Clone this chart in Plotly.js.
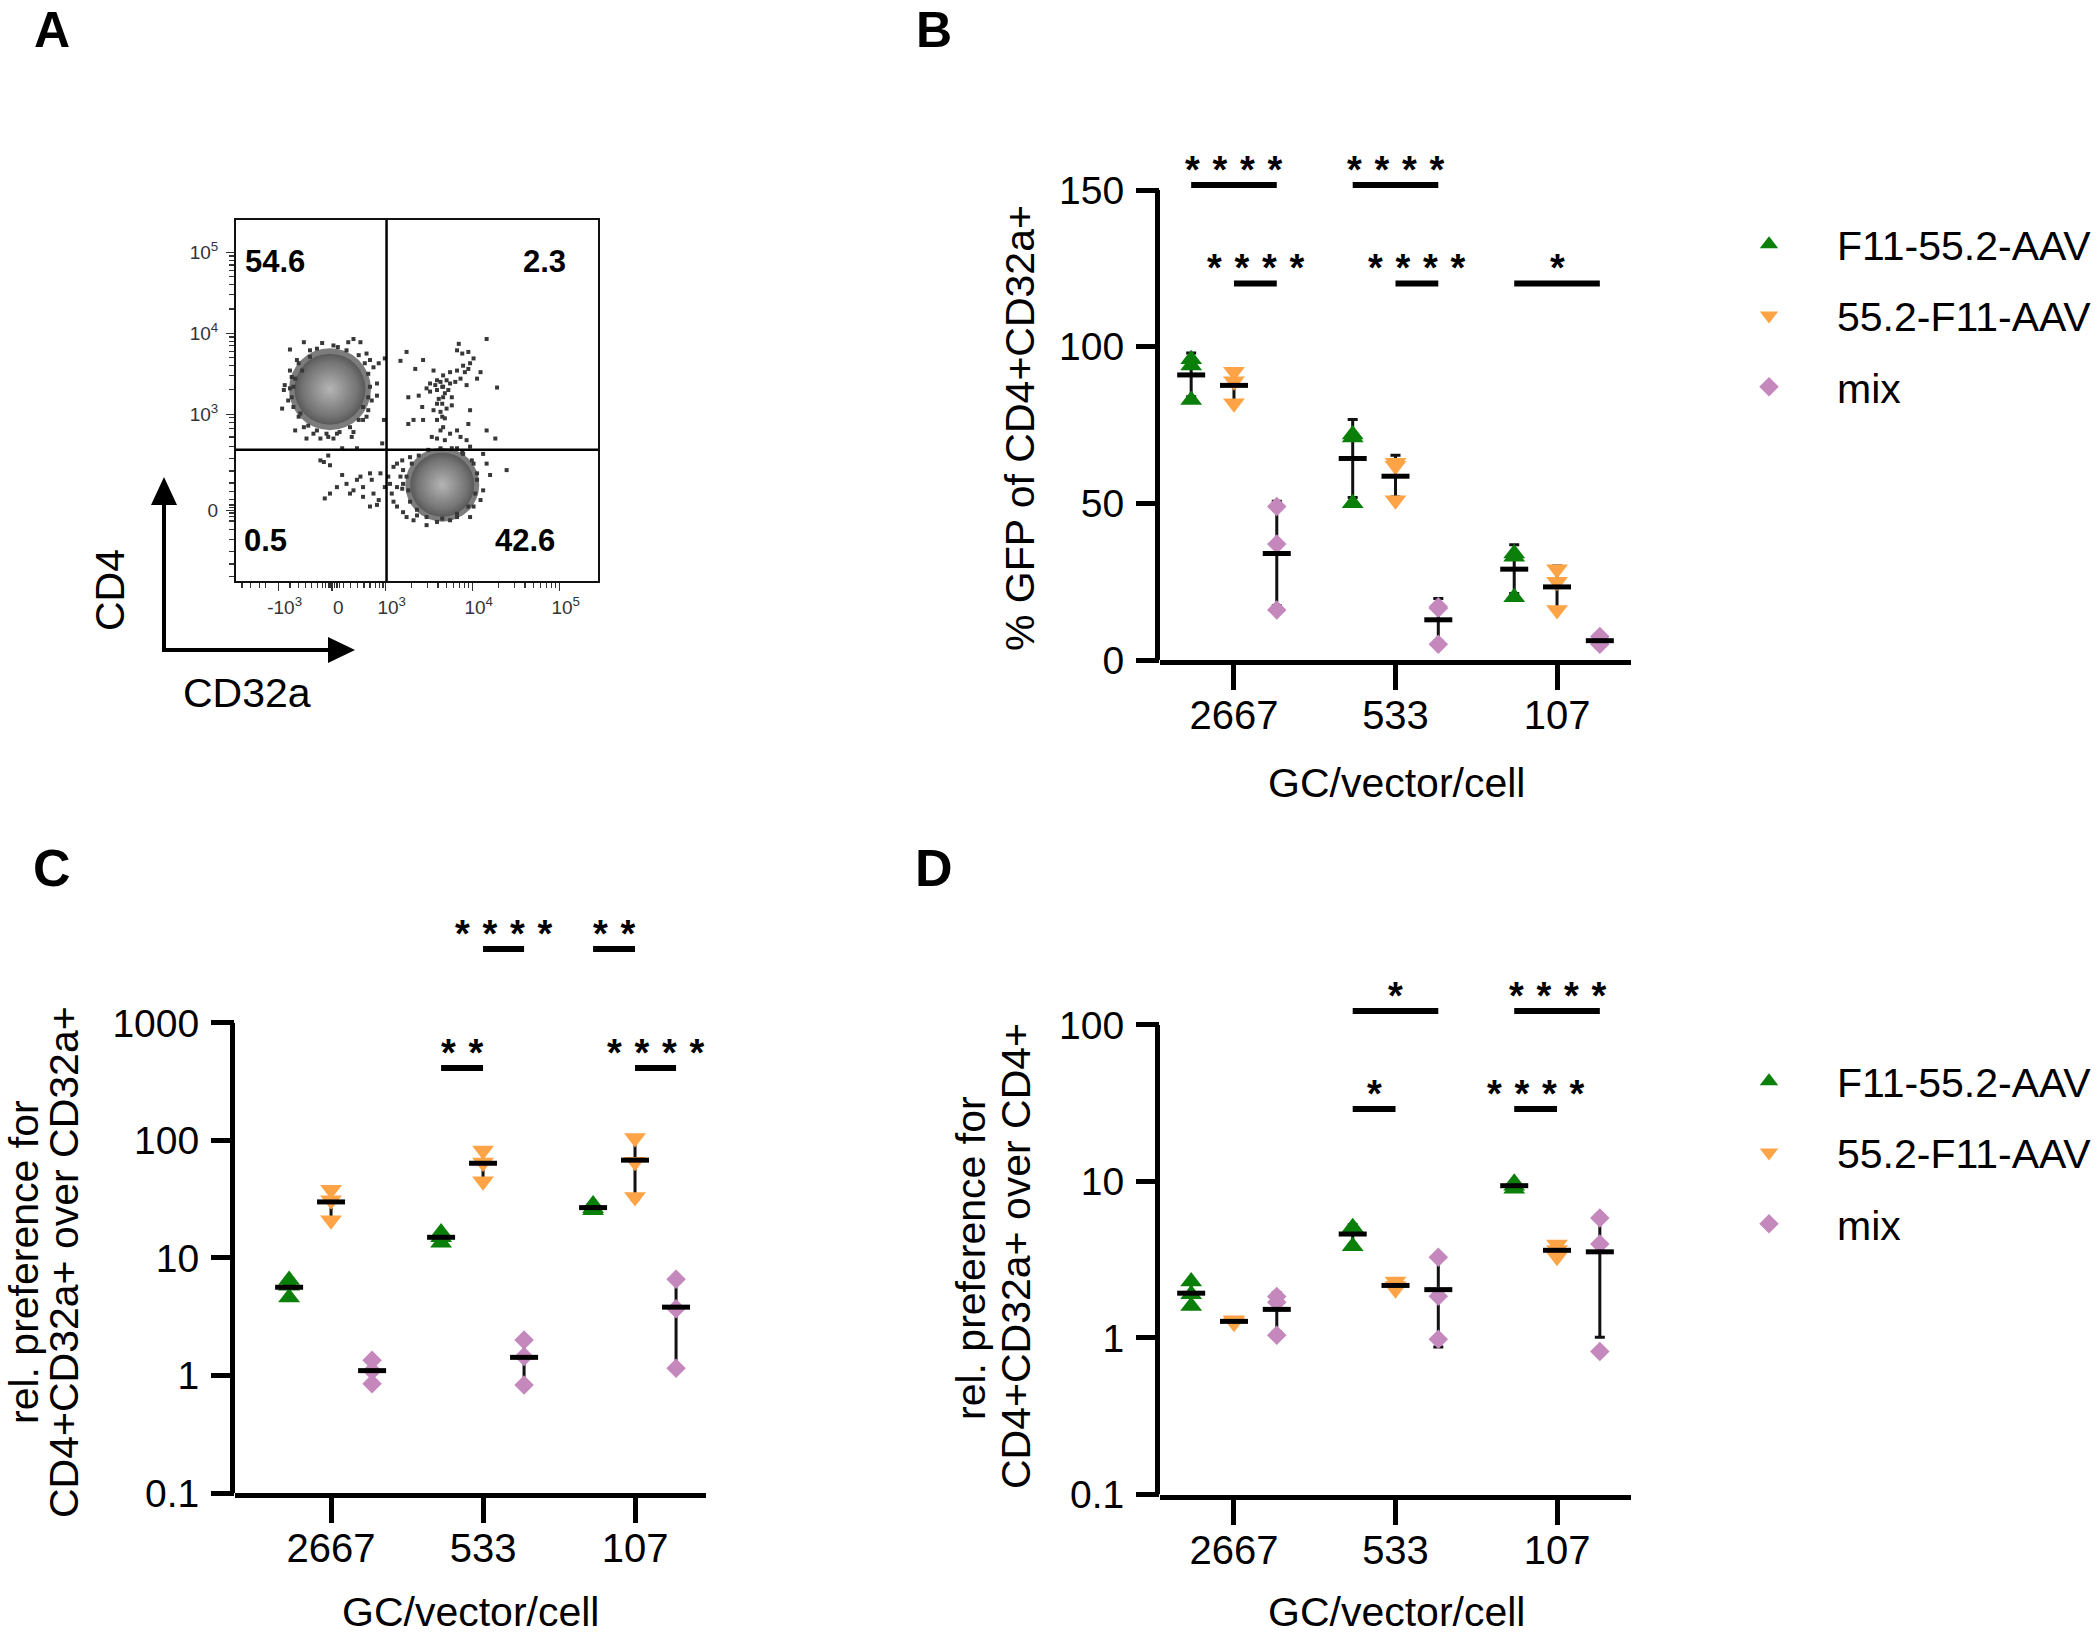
<!DOCTYPE html>
<html>
<head>
<meta charset="utf-8">
<script src="https://cdn.plot.ly/plotly-3.0.1.min.js"></script>
<style>
html,body{margin:0;padding:0;background:#fff;}
#chart{width:2100px;height:1634px;}
</style>
</head>
<body>
<div id="chart"></div>
<script>
// ---------------- DATA ----------------
const groups = ['2667', '533', '107'];
const seriesNames = ['F11-55.2-AAV', '55.2-F11-AAV', 'mix'];

// Panel B: % GFP of CD4+CD32a+  (replicates per dose group)
const gfpF11 = [[96, 94, 83], [72, 71, 50], [34, 33, 20]];
const gfp552 = [[92, 89, 82], [63, 62, 51], [29, 25, 16]];
const gfpMix = [[49, 37, 16], [17, 16.5, 5], [7.5, 6, 5]];

// Panel C: rel. preference CD4+CD32a+ over CD32a+
const prefCD32F11 = [[6.5, 5.8, 4.6], [16.5, 15, 13.5], [28.5, 26.5, 25.5]];
const prefCD32552 = [[38, 31, 21], [82, 65, 45], [105, 66, 33]];
const prefCD32Mix = [[1.35, 1.1, 0.85], [2.0, 1.45, 0.83], [6.6, 3.7, 1.15]];

// Panel D: rel. preference CD4+CD32a+ over CD4+
const prefCD4F11 = [[2.3, 1.9, 1.6], [5.1, 4.9, 3.85], [9.8, 9.4, 9.0]];
const prefCD4552 = [[1.3, 1.28, 1.25], [2.3, 2.15, 2.05], [3.95, 3.65, 3.3]];
const prefCD4Mix = [[1.84, 1.69, 1.04], [3.28, 1.85, 0.98], [5.85, 3.99, 0.82]];

// Significance brackets: [group, series] -> [group, series], level, label
const sigBPairs = [[0, 0, 0, 2], [1, 0, 1, 2], [0, 1, 0, 2], [1, 1, 1, 2], [2, 0, 2, 2]];
const sigBLevels = [151.6, 151.6, 120.2, 120.2, 120.2];
const sigBLabels = ['****', '****', '****', '****', '*'];

const sigCPairs = [[1, 1, 1, 2], [2, 0, 2, 1], [1, 0, 1, 1], [2, 1, 2, 2]];
const sigCLevels = [4270, 4270, 414, 414];
const sigCLabels = ['****', '**', '**', '****'];

const sigDPairs = [[1, 0, 1, 2], [2, 0, 2, 2], [1, 0, 1, 1], [2, 0, 2, 1]];
const sigDLevels = [122.7, 122.7, 29.0, 29.0];
const sigDLabels = ['*', '****', '*', '****'];

// Panel A: flow cytometry (display units: log10 decades, biexponential near 0)
const clusterX = [2.36, 3.65];
const clusterY = [3.31, 2.13];
const eventX = [2.06,2.27,2.40,2.57,2.63,2.71,1.90,1.84,1.83,1.81,1.88,1.90,2.82,2.86,2.92,2.90,2.84,2.90,2.78,2.74,1.96,2.09,2.25,2.34,2.61,2.50,2.67,2.98,2.96,2.99,1.94,1.92,1.98,2.13,2.78,2.80,2.06,2.44,2.17,
  1.90,1.92,1.94,2.00,2.04,2.13,2.21,2.45,2.55,2.69,2.76,2.80,2.82,2.80,2.74,2.69,2.59,2.47,2.32,2.21,2.11,2.02,1.96,2.00,2.63,2.40,
  2.25,2.29,2.34,2.36,2.50,2.44,2.55,2.59,2.30,2.36,2.67,2.71,2.74,2.82,2.84,2.94,2.86,2.92,2.82,2.90,2.63,2.74,
  3.03,3.05,2.99,3.07,3.09,3.13,3.19,3.20,3.17,3.09,3.13,3.20,3.24,3.32,3.47,3.59,3.74,3.82,4.01,4.09,4.12,4.20,4.16,4.12,3.97,3.88,4.39,3.82,4.05,4.01,3.28,3.36,3.97,
  3.24,3.26,3.28,3.36,3.47,3.65,3.82,3.95,4.03,4.05,3.99,3.89,3.76,3.63,3.49,3.38,3.30,3.20,3.19,3.13,
  3.24,3.17,3.34,3.43,3.55,3.59,3.66,3.74,3.82,3.89,3.97,4.01,3.95,4.09,3.84,3.82,3.88,3.95,4.16,4.28,3.47,3.51,3.59,3.65,3.68,3.74,3.80,3.61,3.65,3.70,3.76,3.55,3.63,3.65,3.68,3.59,3.66,3.63,3.74,3.82,3.53,3.59,3.68,3.26,3.32,3.43,3.42,3.38,3.26,3.97,3.95,3.86,3.93,4.26,4.16,4.05,3.93,
  3.63,3.70,3.57,3.66,3.72,3.51,3.76,3.59,3.66,3.91,3.86];
const eventY = [3.89,3.88,3.85,3.89,3.93,3.89,3.80,3.36,3.30,3.07,3.17,3.54,3.67,3.58,3.63,3.38,3.17,3.23,2.97,2.93,2.80,2.70,2.70,2.72,2.72,2.58,2.58,2.93,2.64,3.69,3.34,3.46,3.67,3.79,3.75,3.05,2.84,2.76,2.76,
  3.32,3.21,3.09,2.97,3.54,3.71,3.81,3.83,3.79,3.73,3.63,3.50,3.34,3.21,3.09,2.93,2.84,2.78,2.76,2.80,2.86,3.01,3.44,3.63,2.78,2.70,
  2.43,2.41,2.49,2.37,2.25,2.10,2.14,2.02,1.96,2.02,2.19,2.23,2.10,2.27,2.19,2.27,2.02,1.94,1.86,1.88,2.06,1.98,
  2.23,2.14,2.10,2.02,2.35,2.39,2.43,2.31,2.23,1.92,1.86,1.79,1.73,1.69,1.63,1.67,1.69,1.73,1.86,1.94,2.06,2.25,2.39,2.51,2.60,2.53,2.31,2.58,2.19,2.39,2.47,1.75,1.73,
  2.23,2.06,1.92,1.82,1.73,1.71,1.77,1.86,2.02,2.27,2.43,2.51,2.58,2.58,2.56,2.49,2.39,2.14,2.08,2.10,
  3.77,3.66,3.56,3.67,3.54,3.42,3.48,3.52,3.54,3.60,3.63,3.69,3.56,3.52,3.87,3.79,3.75,3.77,3.93,3.33,3.32,3.28,3.30,3.34,3.26,3.38,3.40,3.19,3.13,3.07,3.11,3.05,3.03,2.97,2.95,2.93,2.84,2.80,2.76,2.80,2.72,2.70,2.68,3.21,2.93,2.93,3.09,3.23,2.88,3.05,2.88,2.72,2.68,2.70,2.80,3.44,3.36,
  3.40,3.42,3.36,3.21,3.30,3.38,3.21,3.13,3.34,3.52,3.44];
const quadrantLabels = ['54.6', '2.3', '0.5', '42.6'];
const quadrantX = [1.73, 4.83, 1.62, 4.60];
const quadrantY = [4.89, 4.89, 1.44, 1.44];
const gateX = 3.01, gateY = 2.56;
const flowXTicks = [1.77, 2.385, 3, 4, 5];
const flowXText = ['-10<sup>3</sup>', '0', '10<sup>3</sup>', '10<sup>4</sup>', '10<sup>5</sup>'];
const flowYTicks = [1.81, 3, 4, 5];
const flowYText = ['0', '10<sup>3</sup>', '10<sup>4</sup>', '10<sup>5</sup>'];

// ---------------- STYLE ----------------
const FONT = 'Liberation Sans, Arial, Helvetica, sans-serif';
const W = 2100, H = 1634;
const px = v => v / W;
const py = v => 1 - v / H;
const colors = ['#0a7f0a', '#ffa347', '#c488bd'];
const symbols = ['triangle-up', 'triangle-down', 'diamond'];
const sizes = [19, 19, 15];

function buildPanel(sets, xa, ya, off, legendId) {
  const errs = [], pts = [], means = [];
  sets.forEach((reps, s) => {
    const xs = [], ys = [], mx = [], my = [], sd = [];
    reps.forEach((vals, g) => {
      const xpos = g + off[s];
      vals.forEach(v => { xs.push(xpos); ys.push(v); });
      const m = vals.reduce((a, b) => a + b, 0) / vals.length;
      const v2 = vals.reduce((a, b) => a + (b - m) * (b - m), 0) / (vals.length - 1);
      mx.push(xpos); my.push(m); sd.push(Math.sqrt(v2));
    });
    errs.push({type: 'scatter', mode: 'markers', x: mx, y: my, xaxis: xa, yaxis: ya,
      showlegend: false, hoverinfo: 'skip', marker: {size: 1, opacity: 0},
      error_y: {type: 'data', array: sd, symmetric: true, visible: true, color: '#111', thickness: 3, width: 5}});
    const p = {type: 'scatter', mode: 'markers', x: xs, y: ys, xaxis: xa, yaxis: ya, name: seriesNames[s],
      marker: {symbol: symbols[s], size: sizes[s], color: colors[s], line: {width: 0}}, cliponaxis: false};
    if (legendId) { p.legend = legendId; p.legendgroup = legendId + s; p.showlegend = true; }
    else p.showlegend = false;
    pts.push(p);
    means.push({type: 'scatter', mode: 'markers', x: mx, y: my, xaxis: xa, yaxis: ya, showlegend: false,
      hoverinfo: 'skip', marker: {symbol: 'line-ew', size: 20, color: '#000', line: {width: 5, color: '#000'}}, cliponaxis: false});
  });
  return errs.concat(pts, means);
}

const offBD = [-0.265, 0, 0.265];
const offC = [-0.276, 0, 0.27];

let data = [];
// Panel A: dense cores (dark rim, lighter centre, layered radial shading) then single events
data.push({type: 'scatter', mode: 'markers', x: clusterX, y: clusterY, xaxis: 'x', yaxis: 'y', showlegend: false, hoverinfo: 'skip',
  marker: {size: [82, 74], color: '#444444', line: {width: 0}}});
data.push({type: 'scatter', mode: 'markers', x: clusterX, y: clusterY, xaxis: 'x', yaxis: 'y', showlegend: false, hoverinfo: 'skip',
  marker: {size: [71, 64], color: '#4a4a4a', gradient: {type: 'radial', color: '#f0f0f0'}, line: {width: 0}}});
data.push({type: 'scatter', mode: 'markers', x: clusterX, y: clusterY, xaxis: 'x', yaxis: 'y', showlegend: false, hoverinfo: 'skip',
  marker: {size: [52, 47], color: '#767676', gradient: {type: 'radial', color: '#ababab'}, line: {width: 0}}});
data.push({type: 'scatter', mode: 'markers', x: eventX, y: eventY, xaxis: 'x', yaxis: 'y', showlegend: false,
  marker: {symbol: 'square', size: 4, color: '#383838', line: {width: 0}}});
// Panels B, C, D
data = data.concat(buildPanel([gfpF11, gfp552, gfpMix], 'x2', 'y2', offBD, 'legend'));
data = data.concat(buildPanel([prefCD32F11, prefCD32552, prefCD32Mix], 'x3', 'y3', offC, null));
data = data.concat(buildPanel([prefCD4F11, prefCD4552, prefCD4Mix], 'x4', 'y4', offBD, 'legend2'));

const shapes = [], annotations = [];

function addSig(pairs, levels, labels, xa, ya, off, isLog) {
  pairs.forEach((p, i) => {
    const x0 = p[0] + off[p[1]], x1 = p[2] + off[p[3]];
    shapes.push({type: 'line', xref: xa, yref: ya, x0: x0, x1: x1, y0: levels[i], y1: levels[i],
      line: {color: '#000', width: 6}});
    annotations.push({xref: xa, yref: ya, x: (x0 + x1) / 2, y: isLog ? Math.log10(levels[i]) : levels[i],
      text: labels[i].split('').join('\u2004'), showarrow: false, xanchor: 'center', yanchor: 'middle', yshift: 15,
      font: {family: FONT, size: 38, color: '#000', weight: 'bold'}});
  });
}
addSig(sigBPairs, sigBLevels, sigBLabels, 'x2', 'y2', offBD, false);
addSig(sigCPairs, sigCLevels, sigCLabels, 'x3', 'y3', offC, true);
addSig(sigDPairs, sigDLevels, sigDLabels, 'x4', 'y4', offBD, true);

// y-axis lines limited to tick range
[['x2', 'y2', 0, 150], ['x3', 'y3', 0.1, 1000], ['x4', 'y4', 0.1, 100]].forEach(a => {
  shapes.push({type: 'line', xref: a[0] + ' domain', yref: a[1], xsizemode: 'pixel', xanchor: 0, x0: -2.5, x1: -2.5,
    y0: a[2], y1: a[3], line: {color: '#000', width: 5}});
});

// Panel A gates
shapes.push({type: 'line', xref: 'x', yref: 'y domain', x0: gateX, x1: gateX, y0: 0, y1: 1, line: {color: '#000', width: 2.5}});
shapes.push({type: 'line', xref: 'x domain', yref: 'y', x0: 0, x1: 1, y0: gateY, y1: gateY, line: {color: '#000', width: 2.5}});
// Panel A axis arrows
shapes.push({type: 'line', xref: 'paper', yref: 'paper', x0: px(164), x1: px(164), y0: py(652), y1: py(500), line: {color: '#000', width: 4}});
shapes.push({type: 'line', xref: 'paper', yref: 'paper', x0: px(162), x1: px(330), y0: py(650), y1: py(650), line: {color: '#000', width: 4}});
shapes.push({type: 'path', xref: 'paper', yref: 'paper', path: `M ${px(151)},${py(505)} L ${px(177)},${py(505)} L ${px(164)},${py(477)} Z`, fillcolor: '#000', line: {width: 0}});
shapes.push({type: 'path', xref: 'paper', yref: 'paper', path: `M ${px(328)},${py(637)} L ${px(328)},${py(663)} L ${px(355)},${py(650)} Z`, fillcolor: '#000', line: {width: 0}});

quadrantLabels.forEach((t, i) => annotations.push({xref: 'x', yref: 'y', x: quadrantX[i], y: quadrantY[i], text: '<b>' + t + '</b>',
  showarrow: false, xanchor: 'center', yanchor: 'middle', font: {family: FONT, size: 31, color: '#000'}}));

function txt(x, y, text, size, angle, extra) {
  annotations.push(Object.assign({xref: 'paper', yref: 'paper', x: px(x), y: py(y), text: text, showarrow: false,
    xanchor: 'center', yanchor: 'middle', textangle: angle || 0, font: {family: FONT, size: size, color: '#000'}}, extra || {}));
}
// panel letters
txt(52, 0, '<b>A</b>', 50, 0, {yanchor: 'top'}); txt(934, 0, '<b>B</b>', 50, 0, {yanchor: 'top'});
txt(52, 868, '<b>C</b>', 52); txt(934, 868, '<b>D</b>', 52);
// Panel A axis names
txt(110, 590, 'CD4', 41, -90); txt(247, 693, 'CD32a', 41);
// axis titles
txt(1020, 428, '% GFP of CD4+CD32a+', 41, -90);
txt(24, 1262, 'rel. preference for', 41, -90);
txt(64, 1262, 'CD4+CD32a+ over CD32a+', 41, -90);
txt(971, 1258, 'rel. preference for', 41, -90);
txt(1016, 1256, 'CD4+CD32a+ over CD4+', 41, -90);
txt(1396, 783, 'GC/vector/cell', 41); txt(470, 1612, 'GC/vector/cell', 41); txt(1396, 1612, 'GC/vector/cell', 41);

const xCat = (d0, d1, r) => ({domain: [px(d0), px(d1)], range: r, tickvals: [0, 1, 2], ticktext: groups,
  showline: true, linewidth: 5, linecolor: '#000', ticks: 'outside', ticklen: 25, tickwidth: 5, tickcolor: '#000',
  showgrid: false, zeroline: false, tickfont: {family: FONT, size: 40, color: '#000'}, ticklabelstandoff: -9, fixedrange: true});
const yVal = (d0, d1, r, vals, texts, type) => ({domain: [py(d0), py(d1)], range: r, type: type || 'linear',
  tickvals: vals, ticktext: texts, showline: false, ticks: 'outside', ticklen: 23, tickwidth: 5, tickcolor: '#000',
  showgrid: false, zeroline: false, tickfont: {family: FONT, size: 39, color: '#000'}, ticklabelstandoff: 4, fixedrange: true});

const flowMinorX = [1.35, 1.45, 1.55, 1.62, 1.9, 2.0, 2.08, 2.15, 2.22, 2.27, 2.31, 2.34, 2.36, 2.41, 2.44, 2.47, 2.52, 2.6, 2.68, 2.75, 2.82, 2.88, 2.93, 2.97]
  .concat([3, 4].flatMap(n => [2, 3, 4, 5, 6, 7, 8, 9].map(k => n + Math.log10(k))));
const flowMinorY = [1.0, 1.15, 1.3, 1.45, 1.58, 1.68, 1.74, 1.78, 1.85, 1.88, 1.95, 2.05, 2.15, 2.3, 2.45, 2.6, 2.72, 2.82, 2.9, 2.96]
  .concat([3, 4].flatMap(n => [2, 3, 4, 5, 6, 7, 8, 9].map(k => n + Math.log10(k))));

const legendStyle = {xanchor: 'left', yanchor: 'top', font: {family: FONT, size: 41, color: '#000'},
  itemwidth: 126, tracegroupgap: 15, bgcolor: 'rgba(0,0,0,0)', borderwidth: 0, traceorder: 'grouped'};

const layout = {
  width: W, height: H, margin: {l: 0, r: 0, t: 0, b: 0}, paper_bgcolor: '#fff', plot_bgcolor: 'rgba(0,0,0,0)',
  font: {family: FONT, color: '#000'}, showlegend: true,
  xaxis: {domain: [px(236), px(598)], range: [1.28, 5.44], anchor: 'y', showline: true, mirror: true, linewidth: 2, linecolor: '#111',
    ticks: 'outside', ticklen: 8, tickwidth: 1.5, tickcolor: '#333', tickvals: flowXTicks, ticktext: flowXText,
    tickfont: {family: FONT, size: 19, color: '#333'}, showgrid: false, zeroline: false, fixedrange: true, ticklabelshift: 6,
    minor: {tickvals: flowMinorX, ticks: 'outside', ticklen: 5, tickwidth: 1.2, tickcolor: '#333', showgrid: false}},
  yaxis: {domain: [py(581), py(220)], range: [0.94, 5.40], anchor: 'x', showline: true, mirror: true, linewidth: 2, linecolor: '#111',
    ticks: 'outside', ticklen: 8, tickwidth: 1.5, tickcolor: '#333', tickvals: flowYTicks, ticktext: flowYText,
    tickfont: {family: FONT, size: 19, color: '#333'}, showgrid: false, zeroline: false, fixedrange: true, ticklabelstandoff: 4,
    minor: {tickvals: flowMinorY, ticks: 'outside', ticklen: 5, tickwidth: 1.2, tickcolor: '#333', showgrid: false}},
  xaxis2: Object.assign(xCat(1160, 1631, [-0.458, 2.458]), {anchor: 'y2'}),
  yaxis2: Object.assign(yVal(660, 140, [0, 166], [0, 50, 100, 150], ['0', '50', '100', '150']), {anchor: 'x2'}),
  xaxis3: Object.assign(xCat(235, 706, [-0.632, 2.467]), {anchor: 'y3'}),
  yaxis3: Object.assign(yVal(1493, 905, [-1, 4.004], [0.1, 1, 10, 100, 1000], ['0.1', '1', '10', '100', '1000'], 'log'), {anchor: 'x3'}),
  xaxis4: Object.assign(xCat(1160, 1631, [-0.458, 2.458]), {anchor: 'y4'}),
  yaxis4: Object.assign(yVal(1494.5, 968, [-1, 2.364], [0.1, 1, 10, 100], ['0.1', '1', '10', '100'], 'log'), {anchor: 'x4'}),
  legend: Object.assign({x: px(1701), y: py(211)}, legendStyle),
  legend2: Object.assign({x: px(1701), y: py(1048)}, legendStyle),
  shapes: shapes, annotations: annotations
};

Plotly.newPlot('chart', data, layout, {staticPlot: true, displayModeBar: false});
</script>
</body>
</html>
